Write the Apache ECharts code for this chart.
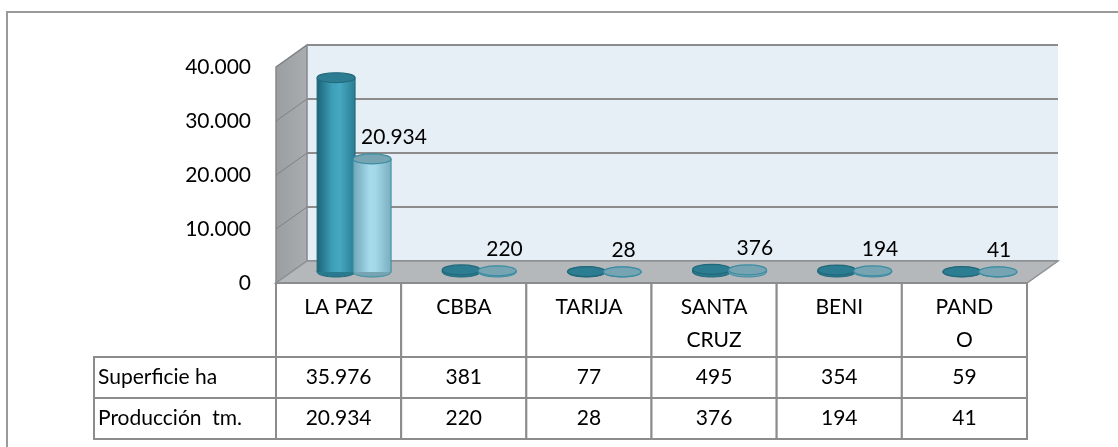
<!DOCTYPE html>
<html>
<head>
<meta charset="utf-8">
<script src="https://cdn.jsdelivr.net/npm/echarts@6/dist/echarts.min.js"></script>
<style>
html, body { margin: 0; padding: 0; background: #fff; }
#main { width: 1118px; height: 447px; }
</style>
</head>
<body>
<div id="main"></div>
<script>
// datos
var categories = ['LA PAZ', 'CBBA', 'TARIJA', 'SANTA\nCRUZ', 'BENI', 'PAND\nO'];
var superficie = [35976, 381, 77, 495, 354, 59];
var produccion = [20934, 220, 28, 376, 194, 41];
var rowNames = ['Superficie ha', 'Producción  tm.'];
var yTicks = [0, 10000, 20000, 30000, 40000];

var FONT = 'Lato, "Open Sans", sans-serif';
var FS = 21;
var DX = 31, DY = -22;      // profundidad del efecto 3D
var HEAD_H = 74, ROW_H = 41;
var LINE = '#8c8c8c';

function fmt(v) {
    return String(v).replace(/\B(?=(\d{3})+(?!\d))/g, '.');
}

// paredes, piso, lineas de division y etiquetas de filas
function renderFrame(params, api) {
    var cs = params.coordSys;
    var x0 = cs.x, x1 = cs.x + cs.width;
    var y0 = api.coord([0, 0])[1];
    var yT = api.coord([0, yTicks[yTicks.length - 1]])[1];
    var ch = [];
    ch.push({type: 'polygon', shape: {points: [[x0 + DX, yT + DY], [x1 + DX, yT + DY], [x1 + DX, y0 + DY], [x0 + DX, y0 + DY]]},
        style: {fill: '#e7eff6'}});
    ch.push({type: 'polygon', shape: {points: [[x0, yT], [x0 + DX, yT + DY], [x0 + DX, y0 + DY], [x0, y0]]},
        style: {fill: new echarts.graphic.LinearGradient(0, 0, 1, 0, [{offset: 0, color: '#9a9ea1'}, {offset: 1, color: '#a9adb0'}]),
            stroke: '#85898c', lineWidth: 1.5}});
    yTicks.forEach(function (t) {
        var y = api.coord([0, t])[1];
        ch.push({type: 'line', shape: {x1: x0, y1: y, x2: x0 + DX, y2: y + DY}, style: {stroke: '#7e8285', lineWidth: 1}});
        ch.push({type: 'line', shape: {x1: x0 + DX, y1: y + DY, x2: x1 + DX, y2: y + DY}, style: {stroke: LINE, lineWidth: 2}});
    });
    ch.push({type: 'polygon', shape: {points: [[x0, y0], [x1, y0], [x1 + DX, y0 + DY], [x0 + DX, y0 + DY]]},
        style: {fill: '#b4b8bb', stroke: '#8e9295', lineWidth: 1.5}});
    // celdas de nombres de fila
    var left = 94;
    rowNames.forEach(function (name, r) {
        var top = y0 + HEAD_H + r * ROW_H;
        ch.push({type: 'rect', shape: {x: left, y: top, width: x0 - left, height: ROW_H},
            style: {fill: '#fff', stroke: LINE, lineWidth: 2}});
        ch.push({type: 'text', style: {text: name, x: left + 4, y: top + ROW_H / 2, align: 'left', verticalAlign: 'middle',
            fontSize: FS, fontFamily: FONT, fill: '#000'}});
    });
    return {type: 'group', children: ch};
}

// columnas de la tabla de datos
function renderTable(params, api) {
    var i = api.value(0);
    var c = api.coord([i, 0]);
    var w = api.size([1, 0])[0];
    var left = c[0] - w / 2;
    var top = c[1];
    var ch = [];
    ch.push({type: 'rect', shape: {x: left, y: top, width: w, height: HEAD_H}, style: {fill: '#fff', stroke: LINE, lineWidth: 2}});
    ch.push({type: 'text', style: {text: categories[i], x: c[0], y: top + 8, align: 'center', verticalAlign: 'top',
        lineHeight: 33, fontSize: FS, fontFamily: FONT, fill: '#000'}});
    [superficie, produccion].forEach(function (arr, r) {
        var ty = top + HEAD_H + r * ROW_H;
        ch.push({type: 'rect', shape: {x: left, y: ty, width: w, height: ROW_H}, style: {fill: '#fff', stroke: LINE, lineWidth: 2}});
        ch.push({type: 'text', style: {text: fmt(arr[i]), x: c[0], y: ty + ROW_H / 2, align: 'center', verticalAlign: 'middle',
            fontSize: FS, fontFamily: FONT, fill: '#000'}});
    });
    return {type: 'group', children: ch};
}

// cilindros
function cylinder(offset, pal, withLabel) {
    return function (params, api) {
        var i = api.value(0), v = api.value(1);
        var top = api.coord([i, v]);
        var base = api.coord([i, 0]);
        var cx = top[0] + DX / 2 + offset;
        var ty = top[1] + DY / 2, by = base[1] + DY / 2;
        var rx = 19, ry = 5;
        var ch = [];
        ch.push({type: 'ellipse', shape: {cx: cx, cy: by, rx: rx, ry: ry}, style: {fill: pal.bottom, stroke: pal.edge, lineWidth: 1}});
        if (by - ty > 0.5) {
            ch.push({type: 'rect', shape: {x: cx - rx, y: ty, width: rx * 2, height: by - ty},
                style: {fill: new echarts.graphic.LinearGradient(0, 0, 1, 0, pal.body)}});
            ch.push({type: 'line', shape: {x1: cx - rx, y1: ty, x2: cx - rx, y2: by}, style: {stroke: pal.edge, lineWidth: 1}});
            ch.push({type: 'line', shape: {x1: cx + rx, y1: ty, x2: cx + rx, y2: by}, style: {stroke: pal.edge, lineWidth: 1}});
        }
        ch.push({type: 'ellipse', shape: {cx: cx, cy: ty, rx: rx, ry: ry}, style: {fill: pal.top, stroke: pal.edge, lineWidth: 1.2}});
        if (withLabel) {
            ch.push({type: 'text', z2: 10, style: {text: fmt(v), x: cx - 11, y: ty - 22, align: 'left', verticalAlign: 'middle',
                fontSize: FS, fontFamily: FONT, fill: '#000'}});
        }
        return {type: 'group', children: ch};
    };
}

var darkPal = {
    body: [{offset: 0, color: '#1b6679'}, {offset: 0.4, color: '#3e9fb8'}, {offset: 0.6, color: '#46a8c1'}, {offset: 1, color: '#2a7d93'}],
    top: '#2c7d92', bottom: '#2a7a8f', edge: '#22687a'
};
var lightPal = {
    body: [{offset: 0, color: '#6ea7b8'}, {offset: 0.45, color: '#a6dbec'}, {offset: 0.6, color: '#a2d7e8'}, {offset: 1, color: '#7aaebf'}],
    top: '#76a4b2', bottom: '#76a4b2', edge: '#3a8ca2'
};

function pairs(arr) {
    return arr.map(function (v, i) { return [i, v]; });
}

var myChart = echarts.init(document.getElementById('main'));
var option = {
    animation: false,
    backgroundColor: '#fff',
    grid: {left: 276, right: 91, top: 67, bottom: 164, outerBoundsMode: 'none'},
    xAxis: {
        type: 'category',
        data: categories,
        show: false
    },
    yAxis: {
        type: 'value',
        min: 0,
        max: 40000,
        interval: 10000,
        axisLine: {show: false},
        axisTick: {show: false},
        splitLine: {show: false},
        axisLabel: {
            margin: 25,
            fontSize: FS,
            fontFamily: FONT,
            color: '#000',
            formatter: function (v) { return fmt(v); }
        }
    },
    graphic: [{
        type: 'rect',
        shape: {x: 7, y: 12, width: 1200, height: 500},
        style: {fill: 'none', stroke: '#9a9a9a', lineWidth: 2},
        z: 0
    }],
    series: [
        {type: 'custom', name: 'marco', renderItem: renderFrame, data: [[0, 0]], clip: false, z: 1, silent: true},
        {type: 'custom', name: 'tabla', renderItem: renderTable, data: pairs(produccion), clip: false, z: 1, silent: true},
        {type: 'custom', name: 'Superficie ha', renderItem: cylinder(-18, darkPal, false), data: pairs(superficie), clip: false, z: 3},
        {type: 'custom', name: 'Producción tm.', renderItem: cylinder(18, lightPal, true), data: pairs(produccion), clip: false, z: 4}
    ]
};
myChart.setOption(option);
window.addEventListener('resize', function () { myChart.resize(); });
</script>
</body>
</html>
